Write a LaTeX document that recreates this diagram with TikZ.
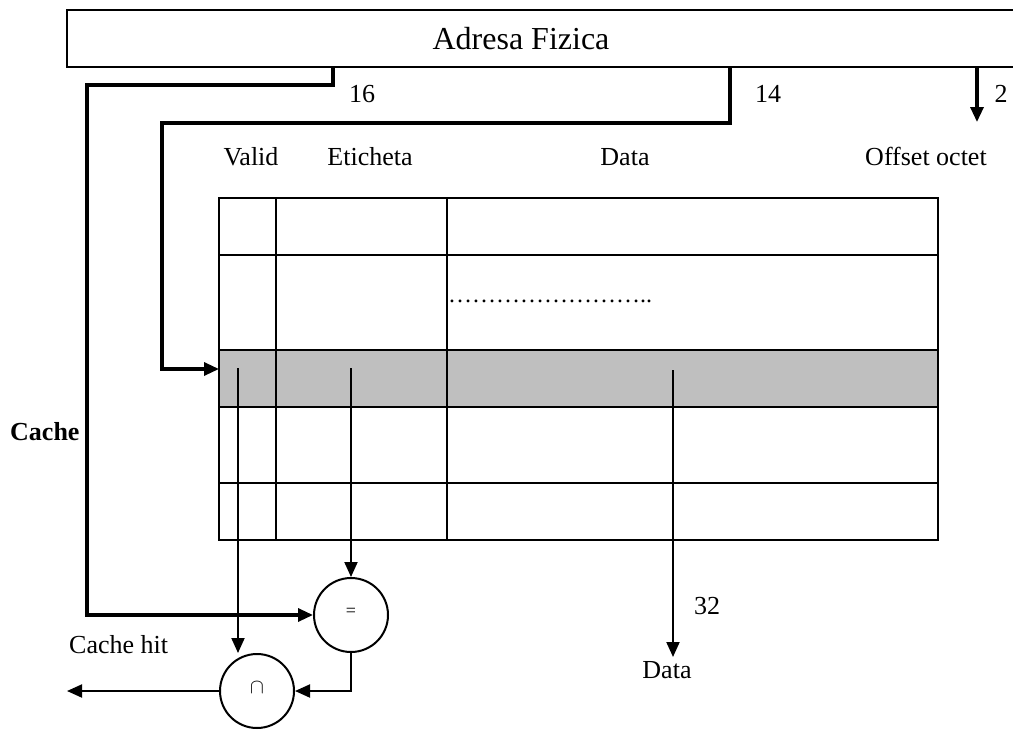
\documentclass[tikz,border=0pt]{standalone}
\usepackage{fontspec}
\setmainfont{Liberation Serif}
\usetikzlibrary{arrows.meta}
\begin{document}
\begin{tikzpicture}[x=1pt,y=-1pt,
  lbl/.style={inner sep=0pt, anchor=base, font=\fontsize{26}{30}\selectfont},
  tip/.style={-{Triangle[length=15pt,width=13pt]}},
  bus/.style={line width=3.2pt, tip},
  sig/.style={line width=2pt, tip},
  grid/.style={line width=1.8pt},
  gate/.style={circle, draw, line width=2pt, minimum size=74pt, inner sep=0pt}
]
\useasboundingbox (0,0) rectangle (1013,731);

% physical address register (open on the right)
\draw[line width=1.5pt] (1030,10) -- (67,10) -- (67,67) -- (1030,67);
\node[inner sep=0pt, anchor=base, font=\fontsize{32}{36}\selectfont] (addr) at (521,49) {Adresa Fizica};

% field taps on the address register
\coordinate (a16) at (333,67);
\coordinate (a14) at (730,67);
\coordinate (a2)  at (977,67);
\coordinate (o2)  at (977,122);

% bit counts
\node[lbl] (n16) at (362,102) {16};
\node[lbl] (n14) at (768,102) {14};
\node[lbl] (n2)  at (1001,102) {2};

% column headings
\node[lbl] (hvalid) at (251,165) {Valid};
\node[lbl] (htag)   at (370,165) {Eticheta};
\node[lbl] (hdata)  at (625,165) {Data};
\node[lbl] (hoff)   at (926,165) {Offset octet};

% cache array
\fill[gray!50] (219,350) rectangle (938,407);
\draw[grid] (219,198) rectangle (938,540);
\foreach \y in {255,350,407,483} \draw[grid] (219,\y) -- (938,\y);
\foreach \x in {276,447} \draw[grid] (\x,198) -- (\x,540);
\node[inner sep=0pt, anchor=base west, font=\fontsize{24}{28}\selectfont] (dots) at (448,302) {……………………..};

\node[inner sep=0pt, anchor=base west, font=\bfseries\fontsize{26}{30}\selectfont] (cache) at (10,440) {Cache};

% comparator and AND gate
\node[gate] (eq)  at (351,615) {\raisebox{6pt}{\fontsize{18}{20}\selectfont =}};
\node[gate] (and) at (257,691) {\raisebox{6pt}{\fontsize{22}{24}\selectfont$\cap$}};

% points on the selected line
\coordinate (rowL) at (219,369);
\coordinate (vsrc) at (238,368);
\coordinate (tsrc) at (351,368);
\coordinate (dsrc) at (673,370);
\coordinate (dout) at (673,657);
\coordinate (hit)  at (67,691);

% index and tag buses
\draw[bus] (a16) |- (87,85) |- (eq.west);
\draw[bus] (a14) |- (162,123) |- (rowL);
\draw[bus] (a2) -- (o2);

% read-out signals
\draw[sig] (vsrc) -- (vsrc |- and.north);
\draw[sig] (tsrc) -- (eq.north);
\draw[sig] (eq.south) |- (and.east);
\draw[sig] (and.west) -- (hit);
\draw[sig] (dsrc) -- (dout);

\node[lbl, anchor=base west] (lhit) at (69,653) {Cache hit};
\node[lbl, anchor=base west] (n32) at (694,614) {32};
\node[lbl] (ldata) at (667,678) {Data};
\end{tikzpicture}
\end{document}
